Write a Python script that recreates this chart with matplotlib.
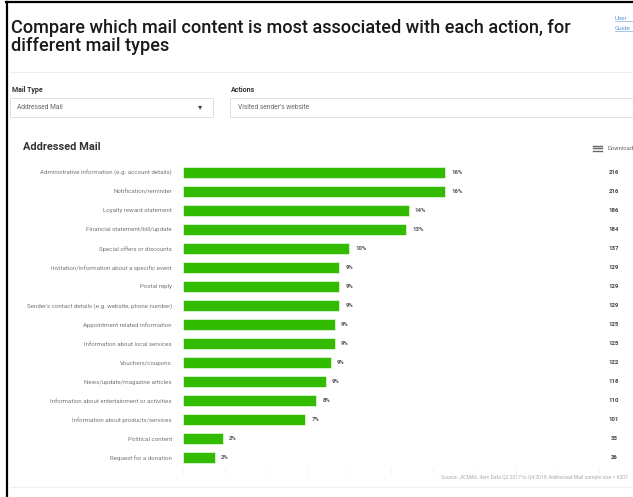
import matplotlib
matplotlib.use("Agg")
import matplotlib.pyplot as plt
from matplotlib.patches import Rectangle
from matplotlib.lines import Line2D
import numpy as np

plt.rcParams['font.family'] = ['Roboto', 'DejaVu Sans']

# content categories, respondent counts and the rounded shares shown next to the bars
categories = [
    "Administrative information (e.g. account details)",
    "Notification/reminder",
    "Loyalty reward statement",
    "Financial statement/bill/update",
    "Special offers or discounts",
    "Invitation/information about a specific event",
    "Postal reply",
    "Sender's contact details (e.g. website, phone number)",
    "Appointment related information",
    "Information about local services",
    "Vouchers/coupons",
    "News/update/magazine articles",
    "Information about entertainment or activities",
    "Information about products/services",
    "Political content",
    "Request for a donation",
]
counts = [216, 216, 186, 184, 137, 129, 129, 129, 125, 125, 122, 118, 110, 101, 33, 26]
pct_labels = ["16%", "16%", "14%", "13%", "10%", "9%", "9%", "9%",
              "9%", "9%", "9%", "9%", "8%", "7%", "2%", "2%"]

W, H = 633, 497
fig = plt.figure(figsize=(W / 100, H / 100), dpi=100)
fig.patch.set_facecolor("white")


def fx(px):
    return px / W


def fy(py):
    return 1 - py / H


def ptext(x, y, s, **kw):
    fig.text(fx(x), fy(y), s, **kw)


# page frame
fig.add_artist(Line2D([fx(6.5), fx(6.5)], [fy(2), fy(497)], color="black", lw=1.6))
fig.add_artist(Line2D([fx(6), fx(633)], [fy(2), fy(2)], color="black", lw=1.6))

# header
ptext(11, 28, "Compare which mail content is most associated with each action, for",
      fontsize=13.1, weight="medium", color="#1a1a1a", va="center")
ptext(11, 46, "different mail types",
      fontsize=13.1, weight="medium", color="#1a1a1a", va="center")
ptext(615, 18, "User", fontsize=4.5, color="#5b9bd5", va="center")
ptext(615, 28, "Guide", fontsize=4.5, color="#5b9bd5", va="center")
fig.add_artist(Line2D([fx(615), fx(633)], [fy(21), fy(21)], color="#5b9bd5", lw=0.4))
fig.add_artist(Line2D([fx(615), fx(633)], [fy(31), fy(31)], color="#5b9bd5", lw=0.4))
fig.add_artist(Line2D([fx(8), fx(633)], [fy(72), fy(72)], color="#eeeeee", lw=0.8))

# filter controls
ptext(12, 90, "Mail Type", fontsize=5.0, weight="bold", color="#333333", va="center")
ptext(231, 90, "Actions", fontsize=5.0, weight="bold", color="#333333", va="center")
fig.add_artist(Rectangle((fx(10), fy(117)), fx(203), 19 / H, facecolor="white",
                         edgecolor="#d9d9d9", lw=0.6))
fig.add_artist(Rectangle((fx(230), fy(117)), fx(420), 19 / H, facecolor="white",
                         edgecolor="#d9d9d9", lw=0.6))
ptext(17, 107.5, "Addressed Mail", fontsize=4.8, color="#666666", va="center")
ptext(200, 107.5, "\u25BE", fontsize=6, color="#444444", va="center", ha="center")
ptext(238, 107.5, "Visited sender's website", fontsize=4.8, color="#666666", va="center")

# chart header
ptext(23, 147, "Addressed Mail", fontsize=7.9, weight="bold", color="#333333", va="center")
for dy in (-2.5, 0, 2.5):
    fig.add_artist(Line2D([fx(593), fx(602)], [fy(148 + dy), fy(148 + dy)],
                          color="#666666", lw=1.0))
ptext(607, 148, "Download", fontsize=4.2, color="#666666", va="center")

# bar chart
ax = fig.add_axes([fx(183), fy(467.5), fx(599 - 183), 305 / H])
y = np.arange(len(categories))
ax.barh(y, counts, height=0.58, color="#33bb00", edgecolor="white", linewidth=0.4)
ax.set_ylim(len(categories) - 0.5, -0.5)
ax.set_xlim(0, 343)
ax.set_xticks(np.arange(0, 344, 34.3))
ax.set_xticklabels([])
ax.set_yticks(y)
ax.set_yticklabels(categories, fontsize=4.4, color="#777777")
ax.tick_params(axis="y", length=0, pad=8)
ax.tick_params(axis="x", length=4, color="#f0f0f0", width=0.5)
for s in ax.spines.values():
    s.set_visible(False)
ax.set_facecolor("none")

for yi, c, lab in zip(y, counts, pct_labels):
    ax.text(c + 5, yi, lab, fontsize=4.3, weight="bold", color="#555555", va="center")
    ax.text(1.0356, yi, str(c), transform=ax.get_yaxis_transform(), fontsize=4.3,
            weight="bold", color="#444444", va="center", ha="center")

# footer
ptext(441, 477, "Source: JICMAIL Item Data Q2 2017 to Q4 2019; Addressed Mail sample size = 6207",
      fontsize=3.6, color="#aaaaaa", va="center")
fig.add_artist(Line2D([fx(10), fx(633)], [fy(487), fy(487)], color="#f0f0f0", lw=0.8))

fig.savefig("out.png", dpi=100)
